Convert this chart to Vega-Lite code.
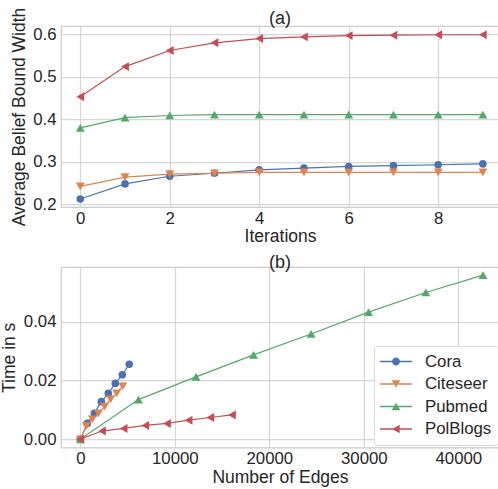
{
  "$schema": "https://vega.github.io/schema/vega-lite/v6.json",
  "padding": {"left": 0, "top": 6, "right": 0, "bottom": 0},
  "spacing": 7,
  "config": {
    "font": "Liberation Sans",
    "background": "white",
    "view": {"stroke": "#cccccc", "strokeWidth": 1.25},
    "axis": {
      "domain": false, "ticks": false, "tickSize": 0, "grid": true,
      "gridColor": "#d6d6d6", "gridWidth": 1.25,
      "labelFontSize": 16.8, "labelColor": "#262626", "labelFont": "Liberation Sans",
      "titleFontSize": 17.5, "titleFontWeight": "normal", "titleColor": "#262626", "titleFont": "Liberation Sans",
      "labelFlush": false, "labelOverlap": false
    },
    "axisX": {"labelPadding": 3, "titlePadding": 1},
    "axisY": {"labelPadding": 5, "titlePadding": 4.5},
    "title": {"fontSize": 18, "fontWeight": "normal", "color": "#262626", "font": "Liberation Sans", "offset": -2}
  },
  "datasets": {
    "a": [
      {"series": "Cora", "x": 0, "y": 0.2125}, {"series": "Cora", "x": 1, "y": 0.248}, {"series": "Cora", "x": 2, "y": 0.266}, {"series": "Cora", "x": 3, "y": 0.273}, {"series": "Cora", "x": 4, "y": 0.281}, {"series": "Cora", "x": 5, "y": 0.285}, {"series": "Cora", "x": 6, "y": 0.289}, {"series": "Cora", "x": 7, "y": 0.291}, {"series": "Cora", "x": 8, "y": 0.293}, {"series": "Cora", "x": 9, "y": 0.295},
      {"series": "Citeseer", "x": 0, "y": 0.242}, {"series": "Citeseer", "x": 1, "y": 0.264}, {"series": "Citeseer", "x": 2, "y": 0.271}, {"series": "Citeseer", "x": 3, "y": 0.273}, {"series": "Citeseer", "x": 4, "y": 0.275}, {"series": "Citeseer", "x": 5, "y": 0.275}, {"series": "Citeseer", "x": 6, "y": 0.275}, {"series": "Citeseer", "x": 7, "y": 0.275}, {"series": "Citeseer", "x": 8, "y": 0.275}, {"series": "Citeseer", "x": 9, "y": 0.275},
      {"series": "Pubmed", "x": 0, "y": 0.380}, {"series": "Pubmed", "x": 1, "y": 0.404}, {"series": "Pubmed", "x": 2, "y": 0.409}, {"series": "Pubmed", "x": 3, "y": 0.411}, {"series": "Pubmed", "x": 4, "y": 0.411}, {"series": "Pubmed", "x": 5, "y": 0.411}, {"series": "Pubmed", "x": 6, "y": 0.411}, {"series": "Pubmed", "x": 7, "y": 0.411}, {"series": "Pubmed", "x": 8, "y": 0.411}, {"series": "Pubmed", "x": 9, "y": 0.411},
      {"series": "PolBlogs", "x": 0, "y": 0.453}, {"series": "PolBlogs", "x": 1, "y": 0.524}, {"series": "PolBlogs", "x": 2, "y": 0.562}, {"series": "PolBlogs", "x": 3, "y": 0.580}, {"series": "PolBlogs", "x": 4, "y": 0.590}, {"series": "PolBlogs", "x": 5, "y": 0.594}, {"series": "PolBlogs", "x": 6, "y": 0.597}, {"series": "PolBlogs", "x": 7, "y": 0.598}, {"series": "PolBlogs", "x": 8, "y": 0.599}, {"series": "PolBlogs", "x": 9, "y": 0.599}
    ],
    "b": [
      {"series": "Cora", "x": 0, "y": 0}, {"series": "Cora", "x": 741, "y": 0.0054}, {"series": "Cora", "x": 1482, "y": 0.0088}, {"series": "Cora", "x": 2222, "y": 0.0128}, {"series": "Cora", "x": 2963, "y": 0.0156}, {"series": "Cora", "x": 3704, "y": 0.0190}, {"series": "Cora", "x": 4445, "y": 0.0219}, {"series": "Cora", "x": 5185, "y": 0.0255},
      {"series": "Citeseer", "x": 0, "y": 0}, {"series": "Citeseer", "x": 641, "y": 0.0045}, {"series": "Citeseer", "x": 1282, "y": 0.0068}, {"series": "Citeseer", "x": 1923, "y": 0.0088}, {"series": "Citeseer", "x": 2564, "y": 0.0111}, {"series": "Citeseer", "x": 3205, "y": 0.0136}, {"series": "Citeseer", "x": 3846, "y": 0.0156}, {"series": "Citeseer", "x": 4487, "y": 0.0180},
      {"series": "Pubmed", "x": 0, "y": 0}, {"series": "Pubmed", "x": 6150, "y": 0.0135}, {"series": "Pubmed", "x": 12240, "y": 0.0212}, {"series": "Pubmed", "x": 18330, "y": 0.0287}, {"series": "Pubmed", "x": 24420, "y": 0.0358}, {"series": "Pubmed", "x": 30500, "y": 0.0432}, {"series": "Pubmed", "x": 36560, "y": 0.0499}, {"series": "Pubmed", "x": 42614, "y": 0.0558},
      {"series": "PolBlogs", "x": 0, "y": 0}, {"series": "PolBlogs", "x": 2293, "y": 0.0028}, {"series": "PolBlogs", "x": 4586, "y": 0.0037}, {"series": "PolBlogs", "x": 6879, "y": 0.0047}, {"series": "PolBlogs", "x": 9172, "y": 0.0054}, {"series": "PolBlogs", "x": 11465, "y": 0.0065}, {"series": "PolBlogs", "x": 13758, "y": 0.0074}, {"series": "PolBlogs", "x": 16051, "y": 0.0083}
    ]
  },
  "vconcat": [
    {
      "width": 438, "height": 181,
      "title": {"text": "(a)", "dy": 19},
      "data": {"name": "a"},
      "encoding": {
        "x": {"field": "x", "type": "quantitative", "title": "Iterations", "scale": {"domain": [-0.431, 9.36], "nice": false, "zero": false}, "axis": {"values": [0, 2, 4, 6, 8], "format": "d"}},
        "y": {"field": "y", "type": "quantitative", "title": "Average Belief Bound Width", "scale": {"domain": [0.1936, 0.6196], "nice": false, "zero": false}, "axis": {"values": [0.2, 0.3, 0.4, 0.5, 0.6], "format": ".1f"}}
      },
      "layer": [
        {"transform": [{"filter": "datum.series == 'Cora'"}], "mark": {"type": "line", "color": "#4C72B0", "strokeWidth": 1.2}},
        {"transform": [{"filter": "datum.series == 'Cora'"}], "mark": {"type": "point", "filled": true, "opacity": 1, "color": "#4C72B0", "shape": "circle", "size": 58}},
        {"transform": [{"filter": "datum.series == 'Citeseer'"}], "mark": {"type": "line", "color": "#DD8452", "strokeWidth": 1.2}},
        {"transform": [{"filter": "datum.series == 'Citeseer'"}], "mark": {"type": "point", "filled": true, "opacity": 1, "color": "#DD8452", "shape": "triangle-down", "size": 80}},
        {"transform": [{"filter": "datum.series == 'Pubmed'"}], "mark": {"type": "line", "color": "#55A868", "strokeWidth": 1.2}},
        {"transform": [{"filter": "datum.series == 'Pubmed'"}], "mark": {"type": "point", "filled": true, "opacity": 1, "color": "#55A868", "shape": "triangle-up", "size": 80}},
        {"transform": [{"filter": "datum.series == 'PolBlogs'"}], "mark": {"type": "line", "color": "#C44E52", "strokeWidth": 1.2}},
        {"transform": [{"filter": "datum.series == 'PolBlogs'"}], "mark": {"type": "point", "filled": true, "opacity": 1, "color": "#C44E52", "shape": "triangle-left", "size": 80}}
      ]
    },
    {
      "width": 438, "height": 180.6,
      "title": {"text": "(b)", "dy": 3},
      "data": {"name": "b"},
      "encoding": {
        "x": {"field": "x", "type": "quantitative", "title": "Number of Edges", "scale": {"domain": [-2042, 44307], "nice": false, "zero": false}, "axis": {"values": [0, 10000, 20000, 30000, 40000], "format": "d"}},
        "y": {"field": "y", "type": "quantitative", "title": "Time in s", "scale": {"domain": [-0.00282, 0.05855], "nice": false, "zero": false}, "axis": {"values": [0, 0.02, 0.04], "format": ".2f"}}
      },
      "layer": [
        {"transform": [{"filter": "datum.series == 'Cora'"}], "mark": {"type": "line", "color": "#4C72B0", "strokeWidth": 1.2}},
        {"transform": [{"filter": "datum.series == 'Cora'"}], "mark": {"type": "point", "filled": true, "opacity": 1, "color": "#4C72B0", "shape": "circle", "size": 58}},
        {"transform": [{"filter": "datum.series == 'Citeseer'"}], "mark": {"type": "line", "color": "#DD8452", "strokeWidth": 1.2}},
        {"transform": [{"filter": "datum.series == 'Citeseer'"}], "mark": {"type": "point", "filled": true, "opacity": 1, "color": "#DD8452", "shape": "triangle-down", "size": 80}},
        {"transform": [{"filter": "datum.series == 'Pubmed'"}], "mark": {"type": "line", "color": "#55A868", "strokeWidth": 1.2}},
        {"transform": [{"filter": "datum.series == 'Pubmed'"}], "mark": {"type": "point", "filled": true, "opacity": 1, "color": "#55A868", "shape": "triangle-up", "size": 80}},
        {"transform": [{"filter": "datum.series == 'PolBlogs'"}], "mark": {"type": "line", "color": "#C44E52", "strokeWidth": 1.2}},
        {"transform": [{"filter": "datum.series == 'PolBlogs'"}], "mark": {"type": "point", "filled": true, "opacity": 1, "color": "#C44E52", "shape": "triangle-left", "size": 80}},
        {
          "mark": {"type": "point", "filled": true, "opacity": 0, "size": 1024},
          "encoding": {
            "color": {"field": "series", "type": "nominal", "scale": {"domain": ["Cora", "Citeseer", "Pubmed", "PolBlogs"], "range": ["#4C72B0", "#DD8452", "#55A868", "#C44E52"]},
              "legend": {"title": null, "orient": "none", "legendX": 313, "legendY": 320, "labelFontSize": 16.8, "labelColor": "#262626", "labelFont": "Liberation Sans", "labelOffset": 13, "symbolSize": 1024, "symbolStrokeWidth": 0, "symbolOpacity": 1, "clipHeight": 19, "rowPadding": 3.5, "padding": 6, "strokeColor": "#d9d9d9", "fillColor": "white", "cornerRadius": 3}},
            "shape": {"field": "series", "type": "nominal", "scale": {"domain": ["Cora", "Citeseer", "Pubmed", "PolBlogs"], "range": [
                "M-1,-0.04H1V0.04H-1ZM-0.25,0A0.25,0.25 0 1,1 0.25,0A0.25,0.25 0 1,1 -0.25,0Z",
                "M-1,-0.04H1V0.04H-1ZM-0.27,-0.23L0.27,-0.23L0,0.24Z",
                "M-1,-0.04H1V0.04H-1ZM0.27,0.23L-0.27,0.23L0,-0.24Z",
                "M-1,-0.04H1V0.04H-1ZM0.23,-0.27L0.23,0.27L-0.24,0Z"]},
              "legend": {"title": null, "orient": "none", "legendX": 313, "legendY": 320, "labelFontSize": 16.8, "labelColor": "#262626", "labelFont": "Liberation Sans", "labelOffset": 13, "symbolSize": 1024, "symbolStrokeWidth": 0, "symbolOpacity": 1, "clipHeight": 19, "rowPadding": 3.5, "padding": 6, "strokeColor": "#d9d9d9", "fillColor": "white", "cornerRadius": 3}}
          }
        }
      ]
    }
  ]
}
